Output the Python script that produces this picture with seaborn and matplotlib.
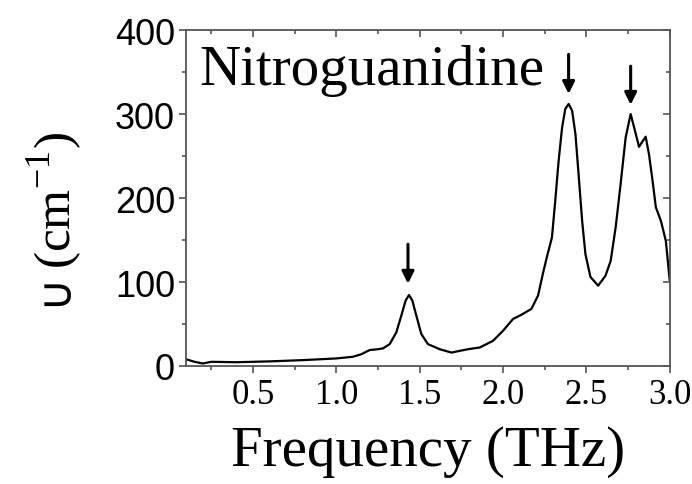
import matplotlib
matplotlib.use("Agg")
import matplotlib.pyplot as plt
import seaborn as sns
import pandas as pd
from matplotlib.ticker import MultipleLocator

freq = [0.10, 0.15, 0.20, 0.25, 0.40, 0.60, 0.80, 1.00, 1.10, 1.15, 1.20, 1.25, 1.28,
        1.32, 1.36, 1.39, 1.416, 1.436, 1.456, 1.48, 1.51, 1.55, 1.62, 1.69, 1.74,
        1.79, 1.86, 1.94, 2.00, 2.06, 2.11, 2.17, 2.21, 2.24, 2.263, 2.293, 2.313,
        2.333, 2.354, 2.373, 2.393, 2.414, 2.434, 2.454, 2.474, 2.494, 2.524, 2.570,
        2.614, 2.645, 2.675, 2.705, 2.735, 2.765, 2.791, 2.815, 2.855, 2.875, 2.896,
        2.916, 2.946, 2.976, 3.00]
alpha = [8, 5, 3, 5, 4.5, 5.5, 7, 9, 11, 14, 19, 20, 21,
         26, 40, 60, 78, 84.5, 78, 60, 38, 26, 20, 16, 18,
         20, 22, 30, 42, 56, 61, 68, 84, 111, 130, 153, 197,
         244, 284, 306, 312, 304, 276, 225, 173, 133, 106, 95.6,
         107.5, 125, 165, 217, 272, 300, 280, 261, 273, 252, 221,
         189, 173, 149, 100]
arrow_x = [1.43, 2.393, 2.765]
arrow_top = [145, 371, 357]
arrow_tip = [98, 324, 311]
xticks = [0.5, 1.0, 1.5, 2.0, 2.5, 3.0]
yticks = [0, 100, 200, 300, 400]

sns.set_style("ticks")
fig = plt.figure(figsize=(6.92, 4.85), dpi=100)
ax = fig.add_axes([0.269, 0.2433, 0.699, 0.6927])
df = pd.DataFrame({"f": freq, "a": alpha})
sns.lineplot(data=df, x="f", y="a", ax=ax, color="black", linewidth=1.6)

for x, t, b in zip(arrow_x, arrow_top, arrow_tip):
    ax.annotate("", xy=(x, b), xytext=(x, t),
                arrowprops=dict(arrowstyle="-|>", color="black", lw=2.2,
                                mutation_scale=18, shrinkA=0, shrinkB=0))

ax.text(0.18, 352, "Nitroguanidine", family="Liberation Serif", fontsize=41,
        va="center", ha="left", color="black")

grey = "#555555"
ax.set_xlim(0.1, 3.0)
ax.set_ylim(0, 400)
ax.set_xticks(xticks)
ax.set_yticks(yticks)
ax.xaxis.set_minor_locator(MultipleLocator(0.25))
ax.yaxis.set_minor_locator(MultipleLocator(50))
ax.set_xticklabels([f"{v:.1f}" for v in xticks], family="Liberation Serif", fontsize=25)
ax.set_yticklabels([str(v) for v in yticks], family="Liberation Sans", fontsize=26)
ax.tick_params(axis="both", which="major", direction="out", length=5, width=1.2, color=grey,
               labelcolor="black")
ax.tick_params(axis="both", which="minor", direction="out", length=3, width=1.2, color=grey)
ax.tick_params(axis="x", which="major", pad=4)
ax.tick_params(axis="y", which="major", pad=3)
for s in ax.spines.values():
    s.set_color(grey)
    s.set_linewidth(1.3)

ax2 = ax.twinx()
ax2.set_ylim(0, 400)
ax2.yaxis.set_major_locator(MultipleLocator(100))
ax2.yaxis.set_minor_locator(MultipleLocator(50))
ax2.tick_params(axis="y", which="both", direction="in", labelright=False, color=grey, width=1.2)
ax2.tick_params(axis="y", which="major", length=5)
ax2.tick_params(axis="y", which="minor", length=3)
for s in ax2.spines.values():
    s.set_visible(False)
ax3 = ax.twiny()
ax3.set_xlim(0.1, 3.0)
ax3.xaxis.set_major_locator(MultipleLocator(0.5))
ax3.xaxis.set_minor_locator(MultipleLocator(0.25))
ax3.tick_params(axis="x", which="both", direction="in", labeltop=False, color=grey, width=1.2)
ax3.tick_params(axis="x", which="major", length=5)
ax3.tick_params(axis="x", which="minor", length=3)
for s in ax3.spines.values():
    s.set_visible(False)

ax.set_xlabel("Frequency (THz)", family="Liberation Serif", fontsize=41, labelpad=10,
              color="black")
ax.set_ylabel("")
fig.text(55 / 692, 1 - 201 / 485, "(cm$^{\\mathregular{-1}}$)", rotation=90,
         family="Liberation Serif", fontsize=37, ha="center", va="center", color="black")
fig.text(54 / 692, 1 - 289 / 485, "\u222a", rotation=90,
         family="DejaVu Sans", fontsize=33, ha="center", va="center", color="black")

fig.savefig("out.png", dpi=100)
